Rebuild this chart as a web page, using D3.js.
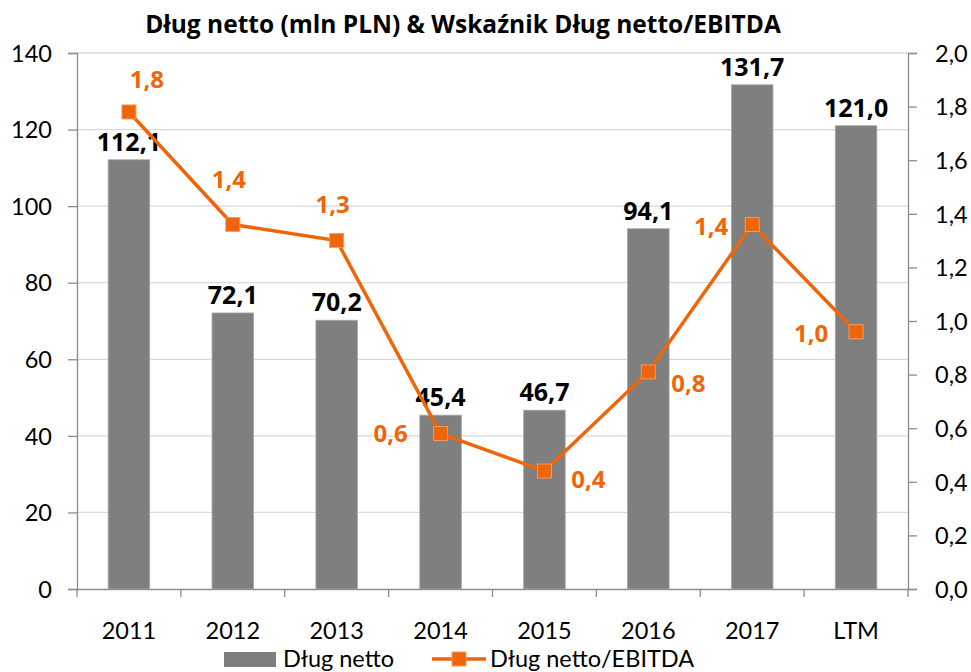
<!DOCTYPE html>
<html>
<head>
<meta charset="utf-8">
<script src="https://cdn.jsdelivr.net/npm/d3@7"></script>
<style>
  body { margin: 0; background: #fff; }
  text { font-family: Lato, "Open Sans", sans-serif; }
  .bold { font-family: "Open Sans", sans-serif; font-weight: bold; }
</style>
</head>
<body>
<svg id="chart"></svg>
<script>
// data
const categories = ["2011", "2012", "2013", "2014", "2015", "2016", "2017", "LTM"];
const debtValues = [112.1, 72.1, 70.2, 45.4, 46.7, 94.1, 131.7, 121.0];
const ratioValues = [1.78, 1.36, 1.30, 0.58, 0.44, 0.81, 1.36, 0.96];
const leftTicks = [0, 20, 40, 60, 80, 100, 120, 140];
const rightTicks = [0, 0.2, 0.4, 0.6, 0.8, 1.0, 1.2, 1.4, 1.6, 1.8, 2.0];
const seriesNames = ["Dług netto", "Dług netto/EBITDA"];
const title = "Dług netto (mln PLN) & Wskaźnik Dług netto/EBITDA";

// label offsets for the ratio labels (dx, dy from marker to text baseline)
const ratioLabelOffset = [[18, -24], [-4, -37], [-4, -28], [-50, 8], [44, 17], [40, 20], [-41, 10], [-45, 10]];

const W = 971, H = 672;
const margin = { top: 53, right: 63, bottom: 83, left: 77 };
const width = W - margin.left - margin.right;
const height = H - margin.top - margin.bottom;

const fmt = (v, d) => v.toFixed(d).replace(".", ",");
const orange = "#EE650A";
const barColor = "#7F7F7F";
const fs = 23.5;

const svg = d3.select("#chart").attr("width", W).attr("height", H);

svg.append("text")
  .attr("class", "bold")
  .attr("x", 463).attr("y", 33)
  .attr("text-anchor", "middle")
  .attr("font-size", 24.5)
  .text(title);

const chart = svg.append("g").attr("transform", `translate(${margin.left},${margin.top})`);

const x = d3.scaleBand().domain(categories).range([0, width]).paddingInner(0.6).paddingOuter(0.3);
const xOuter = d3.scaleBand().domain(categories).range([0, width]);
const yL = d3.scaleLinear().domain([0, 140]).range([height, 0]);
const yR = d3.scaleLinear().domain([0, 2]).range([height, 0]);

// grid
chart.append("g").selectAll("line").data(leftTicks.slice(1)).join("line")
  .attr("x1", 0).attr("x2", width)
  .attr("y1", d => yL(d)).attr("y2", d => yL(d))
  .attr("stroke", "#D9D9D9").attr("stroke-width", 1.3);

// axes
const axisColor = "#8C8C8C";
const yAxisL = chart.append("g")
  .call(d3.axisLeft(yL).tickValues(leftTicks).tickSize(9).tickPadding(16).tickFormat(d => d));
const yAxisR = chart.append("g").attr("transform", `translate(${width},0)`)
  .call(d3.axisRight(yR).tickValues(rightTicks).tickSize(9).tickPadding(18).tickFormat(d => fmt(d, 1)));
const xAxis = chart.append("g").attr("transform", `translate(0,${height})`)
  .call(d3.axisBottom(xOuter).tickSize(0).tickPadding(33));
// tick marks at band boundaries
xAxis.selectAll(".bound").data(d3.range(categories.length + 1)).join("line")
  .attr("class", "bound")
  .attr("x1", i => i * xOuter.step()).attr("x2", i => i * xOuter.step())
  .attr("y1", 0).attr("y2", 8)
  .attr("stroke", axisColor).attr("stroke-width", 1.3);

[yAxisL, yAxisR, xAxis].forEach(g => {
  g.selectAll(".domain").attr("stroke", axisColor).attr("stroke-width", 1.3);
  g.selectAll(".tick line").attr("stroke", axisColor).attr("stroke-width", 1.3);
  g.selectAll("text").attr("font-size", fs).attr("fill", "#000").attr("font-family", "Lato, sans-serif");
});
yAxisL.selectAll(".tick text").attr("dy", "0.35em");
yAxisR.selectAll(".tick text").attr("dy", "0.35em");

// bars
chart.append("g").selectAll("rect").data(debtValues).join("rect")
  .attr("x", (d, i) => x(categories[i]))
  .attr("y", d => yL(d))
  .attr("width", x.bandwidth())
  .attr("height", d => height - yL(d))
  .attr("fill", barColor)
  .attr("stroke", "#A6A6A6").attr("stroke-width", 0.8);

chart.append("g").selectAll("text").data(debtValues).join("text")
  .attr("class", "bold")
  .attr("x", (d, i) => x(categories[i]) + x.bandwidth() / 2)
  .attr("y", d => yL(d) - 9)
  .attr("text-anchor", "middle")
  .attr("font-size", 25)
  .text(d => fmt(d, 1));

// line
const cx = i => xOuter(categories[i]) + xOuter.bandwidth() / 2;
const line = d3.line().x((d, i) => cx(i)).y(d => yR(d));
chart.append("path").datum(ratioValues)
  .attr("d", line)
  .attr("fill", "none").attr("stroke", orange).attr("stroke-width", 3.5);

chart.append("g").selectAll("rect").data(ratioValues).join("rect")
  .attr("x", (d, i) => cx(i) - 7).attr("y", d => yR(d) - 7)
  .attr("width", 14).attr("height", 14)
  .attr("fill", orange).attr("stroke", "#F59A5A").attr("stroke-width", 1);

chart.append("g").selectAll("text").data(ratioValues).join("text")
  .attr("class", "bold")
  .attr("x", (d, i) => cx(i) + ratioLabelOffset[i][0])
  .attr("y", (d, i) => yR(d) + ratioLabelOffset[i][1])
  .attr("text-anchor", "middle")
  .attr("font-size", 24).attr("fill", orange)
  .text(d => fmt(d, 1));

// legend
const legend = svg.append("g").attr("transform", "translate(0,659)");
legend.append("rect").attr("x", 224).attr("y", -7).attr("width", 52).attr("height", 15).attr("fill", barColor);
legend.append("text").attr("x", 283).attr("y", 8).attr("font-size", fs).text(seriesNames[0]);
legend.append("line").attr("x1", 432).attr("x2", 486).attr("y1", 0).attr("y2", 0)
  .attr("stroke", orange).attr("stroke-width", 3.5);
legend.append("rect").attr("x", 452).attr("y", -7).attr("width", 14).attr("height", 14)
  .attr("fill", orange).attr("stroke", "#F59A5A");
legend.append("text").attr("x", 490).attr("y", 8).attr("font-size", fs).text(seriesNames[1]);
</script>
</body>
</html>
